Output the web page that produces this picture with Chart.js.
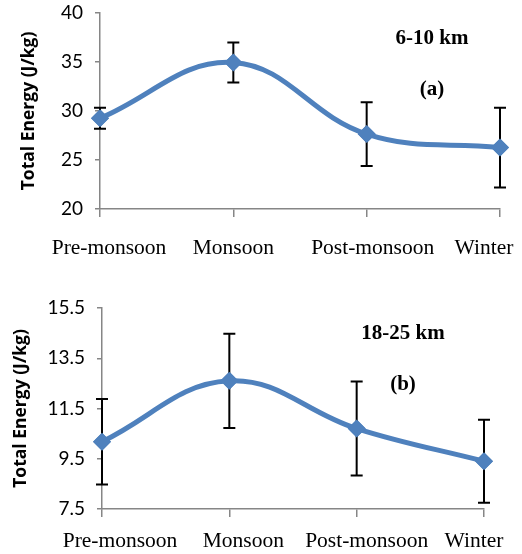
<!DOCTYPE html>
<html>
<head>
<meta charset="utf-8">
<script src="https://cdn.jsdelivr.net/npm/chart.js@4.4.1/dist/chart.umd.min.js"></script>
<style>
  html, body { margin: 0; padding: 0; background: #fff; }
  #wrap { position: relative; width: 522px; height: 554px; }
  .box { position: absolute; left: 0; width: 522px; }
  #boxA { top: 0; height: 270px; }
  #boxB { top: 290px; height: 264px; }
</style>
</head>
<body>
<div id="wrap">
  <div class="box" id="boxA"><canvas id="chartA" width="522" height="270"></canvas></div>
  <div class="box" id="boxB"><canvas id="chartB" width="522" height="264"></canvas></div>
</div>
<script>
const seasons = ['Pre-monsoon', 'Monsoon', 'Post-monsoon', 'Winter'];

// panel (a) 6-10 km
const energyA = [29.27, 34.95, 27.65, 26.27];
const errorA = [1.07, 2.05, 3.25, 4.07];
const ticksA = { min: 20, max: 40, step: 5 };

// panel (b) 18-25 km
const energyB = [10.18, 12.6, 10.7, 9.4];
const errorB = [1.7, 1.88, 1.87, 1.65];
const ticksB = { min: 7.5, max: 15.5, step: 2 };

const blue = '#4F81BD';
const axisGray = '#868686';

// error bars, markers redrawn on top
const errorBars = {
    id: 'errorBars',
    afterDatasetsDraw(chart, args, opts) {
        const ctx = chart.ctx;
        const y = chart.scales.y;
        const meta = chart.getDatasetMeta(0);
        ctx.save();
        ctx.strokeStyle = '#000';
        ctx.lineWidth = 2;
        meta.data.forEach((pt, i) => {
            const v = chart.data.datasets[0].data[i];
            const e = opts.errors[i];
            const top = y.getPixelForValue(v + e);
            const bot = y.getPixelForValue(v - e);
            ctx.beginPath();
            ctx.moveTo(pt.x, top); ctx.lineTo(pt.x, bot);
            ctx.moveTo(pt.x - 6, top); ctx.lineTo(pt.x + 6, top);
            ctx.moveTo(pt.x - 6, bot); ctx.lineTo(pt.x + 6, bot);
            ctx.stroke();
        });
        meta.data.forEach(pt => pt.draw(ctx, chart.chartArea));
        ctx.restore();
    }
};

// panel labels inside the plot + category labels (excel nudges them)
const panelText = {
    id: 'panelText',
    afterDraw(chart, args, opts) {
        const ctx = chart.ctx;
        const a = chart.chartArea;
        const xs = chart.scales.x;
        ctx.save();
        ctx.fillStyle = '#000';
        ctx.textAlign = 'center';
        ctx.textBaseline = 'alphabetic';
        ctx.font = '21.5px "Liberation Serif"';
        chart.data.labels.forEach((lab, i) => {
            ctx.fillText(lab, xs.getPixelForTick(i) + opts.nudge[i], a.bottom + opts.base);
        });
        ctx.textBaseline = 'middle';
        ctx.font = 'bold 21px "Liberation Serif"';
        const x = a.left + opts.fx * (a.right - a.left);
        ctx.fillText(opts.title, x, a.top + opts.fy1 * (a.bottom - a.top));
        ctx.fillText(opts.tag, x, a.top + opts.fy2 * (a.bottom - a.top));
        ctx.restore();
    }
};

function makeChart(id, values, errors, range, pad, xHeight, text) {
    return new Chart(document.getElementById(id), {
        type: 'line',
        data: {
            labels: seasons,
            datasets: [{
                data: values,
                borderColor: blue,
                backgroundColor: blue,
                borderWidth: 5,
                tension: 0.4,
                pointStyle: 'rectRot',
                pointRadius: 9,
                pointBorderWidth: 0,
                clip: false
            }]
        },
        options: {
            responsive: false,
            animation: false,
            layout: { padding: pad },
            plugins: {
                legend: { display: false },
                tooltip: { enabled: false },
                errorBars: { errors: errors },
                panelText: text
            },
            scales: {
                x: {
                    offset: false,
                    afterFit: s => { s.height = xHeight; s.paddingLeft = 0; s.paddingRight = 0; },
                    border: { color: axisGray, width: 1.5 },
                    grid: { drawOnChartArea: false, tickLength: 8, color: axisGray, lineWidth: 1.5 },
                    ticks: { display: false, autoSkip: false }
                },
                y: {
                    min: range.min, max: range.max,
                    afterFit: s => { s.width = pad.axisX; s.paddingTop = 0; s.paddingBottom = 0; },
                    border: { color: axisGray, width: 1.5 },
                    grid: { drawOnChartArea: false, tickLength: 5, color: axisGray, lineWidth: 1.5 },
                    ticks: { stepSize: range.step, color: '#000', padding: 12,
                             font: { family: 'Lato', size: 19 } },
                    title: { display: true, text: 'Total Energy (J/kg)', color: '#000',
                             font: { family: '"Open Sans"', size: 17.5, weight: 'bold' },
                             padding: { top: pad.titleGap, bottom: 0 } }
                }
            }
        },
        plugins: [errorBars, panelText]
    });
}

makeChart('chartA', energyA, errorA, ticksA,
    { top: 13, right: 22, bottom: 0, left: 0, axisX: 100, titleGap: 19 }, 61,
    { title: '6-10 km', tag: '(a)', fx: 0.83, fy1: 0.13, fy2: 0.39,
      nudge: [9, 0, 6, -16], base: 45 });

makeChart('chartB', energyB, errorB, ticksB,
    { top: 18, right: 38, bottom: 0, left: 0, axisX: 102, titleGap: 11 }, 45,
    { title: '18-25 km', tag: '(b)', fx: 0.788, fy1: 0.126, fy2: 0.38,
      nudge: [18, 14, 10, -10], base: 38 });
</script>
</body>
</html>
